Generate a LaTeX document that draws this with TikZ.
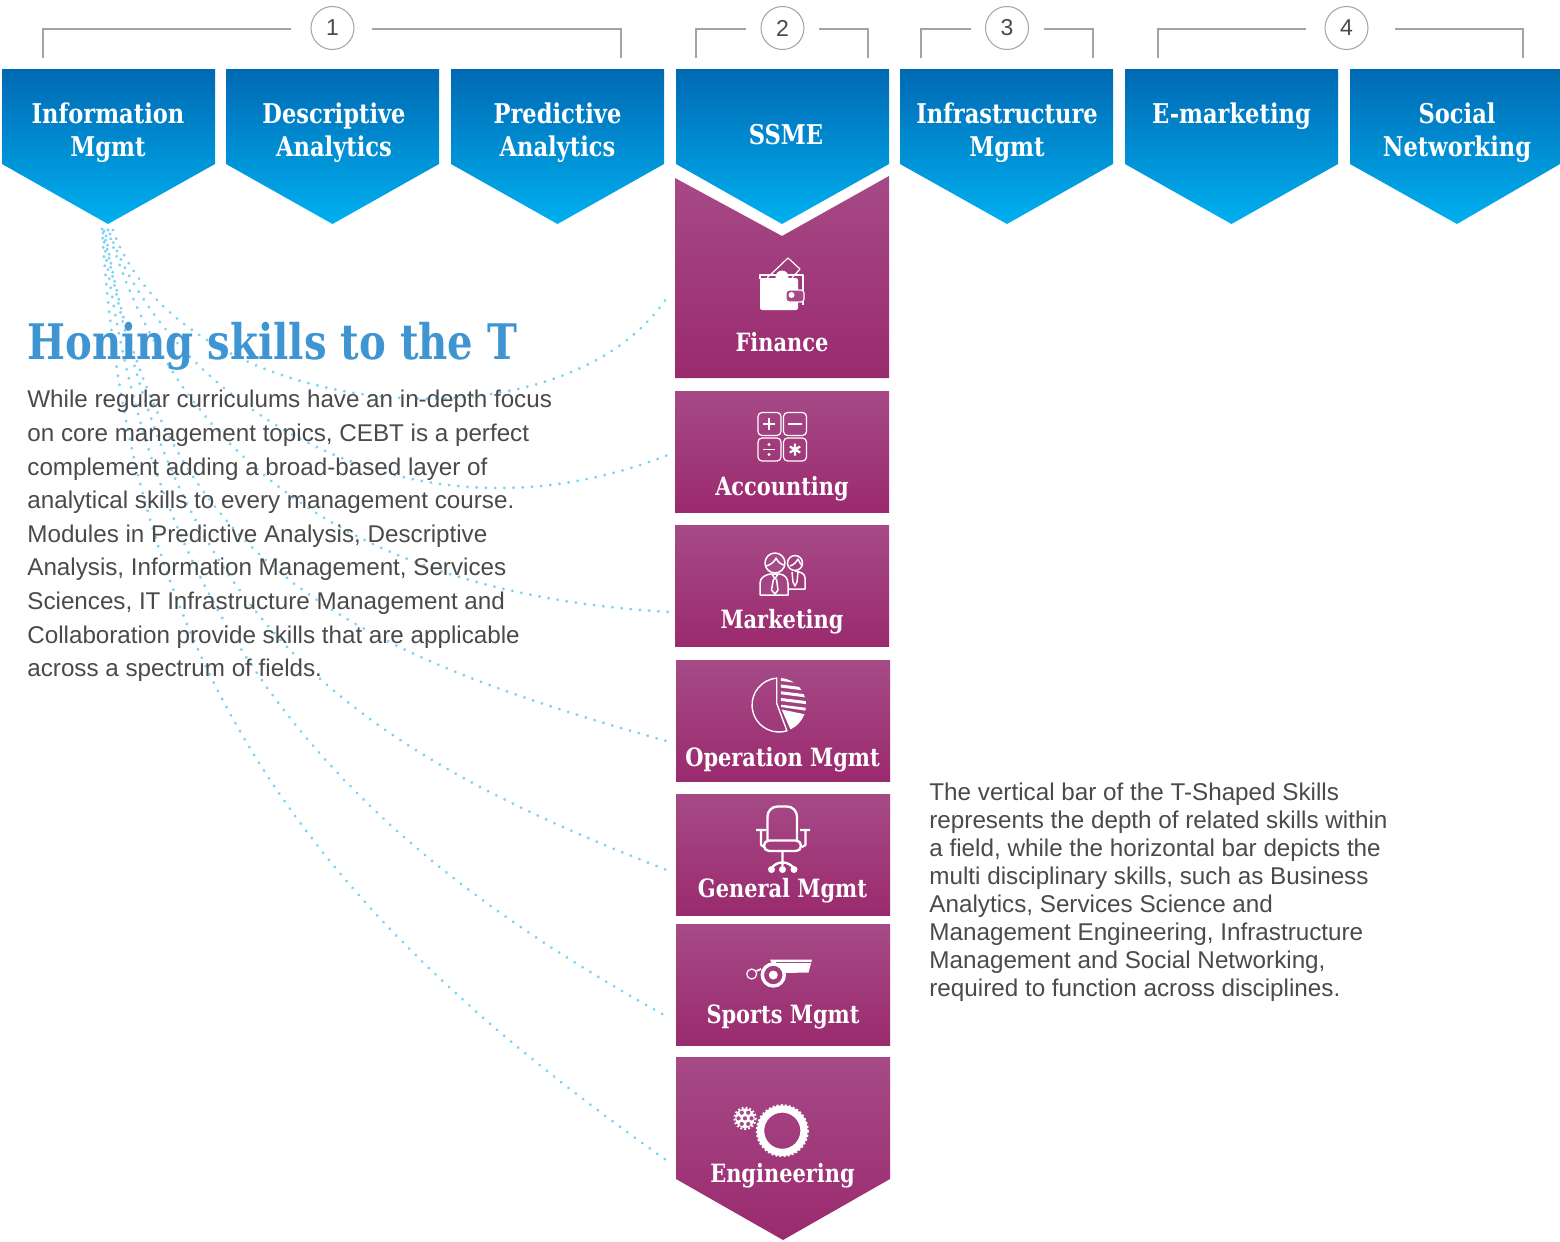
\documentclass[tikz,border=0pt]{standalone}
\usepackage{fontspec}
\setmainfont{Liberation Sans}
\newfontfamily\slab[FakeStretch=0.83]{DejaVu Serif Bold}
\newfontfamily\slabhead[FakeStretch=0.82]{DejaVu Serif Bold}
\usetikzlibrary{calc,decorations.markings}
\definecolor{blueT}{HTML}{0069B3}
\definecolor{blueB}{HTML}{00B0F0}
\definecolor{purpT}{HTML}{A64A87}
\definecolor{purpB}{HTML}{9A2A6E}
\definecolor{brk}{HTML}{A3A3A3}
\definecolor{dotc}{HTML}{7AD2F8}
\definecolor{bodyc}{HTML}{4A4A4A}
\definecolor{headc}{HTML}{3F94D2}
\tikzset{
  bluefill/.style={top color=blueT,bottom color=blueB,draw=none},
  purpfill/.style={top color=purpT,bottom color=purpB,draw=none},
  bluelabel/.style={text=white,font=\slab\fontsize{13.6}{16.6}\selectfont,align=center,inner sep=0pt},
  purplabel/.style={text=white,font=\slab\fontsize{12.6}{15}\selectfont,anchor=base,inner sep=0pt},
  bracket/.style={draw=brk,line width=0.55pt},
  numcircle/.style={circle,draw=brk,line width=0.5pt,minimum size=21.5pt,inner sep=0pt,text=bodyc,font=\fontsize{11.5}{12}\selectfont},
  dotline/.style={decoration={markings,mark=between positions 0 and 1 step 4.6pt with {\fill[dotc] (0,0) circle[radius=0.8pt];}},decorate},
  iconline/.style={draw=white,line width=0.6pt,line join=round},
  iconfill/.style={fill=white,draw=none},
  para/.style={anchor=north west,align=left,inner sep=0pt,text=bodyc}
}
\newcommand{\bluechev}[3]{\path[bluefill] (#1,69) -- (#2,69) -- (#2,164) -- (#3,224) -- (#1,164) -- cycle;}
\begin{document}
\begin{tikzpicture}[x=0.5pt,y=-0.5pt]
\path[fill=white] (0,0) rectangle (1560,1242);
\useasboundingbox (0,0) rectangle (1560,1242);

% connector ends
\coordinate (tipA) at (102,229);
\coordinate (tipB) at (103,233);
\coordinate (tipC) at (104,231);
\coordinate (tipD) at (106,236);
\coordinate (tipE) at (108,230);
\coordinate (tipF) at (110,234);
\coordinate (tipG) at (113,230);
\coordinate (endFin) at (668,296);
\coordinate (endAcc) at (668,455);
\coordinate (endMkt) at (670,612);
\coordinate (endOps) at (670,742);
\coordinate (endGen) at (672,872);
\coordinate (endSpo) at (666,1016);
\coordinate (endEng) at (666,1160);

% dotted connectors
\path[dotline] (tipG) .. controls (180,420) and (560,460) .. (endFin);
\path[dotline] (tipF) .. controls (170,395) and (400,560) .. (endAcc);
\path[dotline] (tipE) .. controls (180,470) and (370,595) .. (endMkt);
\path[dotline] (tipD) .. controls (160,560) and (340,650) .. (endOps);
\path[dotline] (tipC) .. controls (170,610) and (330,740) .. (endGen);
\path[dotline] (tipB) .. controls (150,620) and (330,830) .. (endSpo);
\path[dotline] (tipA) .. controls (130,680) and (320,915) .. (endEng);

% brackets and numbers
\node[numcircle] (n1) at (332.5,28) {1};
\node[numcircle] (n2) at (782.5,28) {2};
\node[numcircle] (n3) at (1007,28) {3};
\node[numcircle] (n4) at (1346.5,28) {4};
\draw[bracket] (43,58) |- (291,29);
\draw[bracket] (372,29) -| (621,58);
\draw[bracket] (696,58) |- (746,29);
\draw[bracket] (819,29) -| (868,58);
\draw[bracket] (921,58) |- (971,29);
\draw[bracket] (1044,29) -| (1093,58);
\draw[bracket] (1158,58) |- (1306,29);
\draw[bracket] (1395,29) -| (1523,58);

% top chevrons
\bluechev{2}{215}{108}
\bluechev{226}{439}{332.5}
\bluechev{451}{664}{557.5}
\bluechev{676}{889}{782}
\bluechev{900}{1113}{1007}
\bluechev{1125}{1338}{1231.5}
\bluechev{1350}{1560}{1457}
\node[bluelabel] (info) at (108,133) {Information\\Mgmt};
\node[bluelabel] (desc) at (334,133) {Descriptive\\Analytics};
\node[bluelabel] (pred) at (557.5,133) {Predictive\\Analytics};
\node[bluelabel] (ssme) at (786,134.5) {SSME};
\node[bluelabel] (infra) at (1007,133) {Infrastructure\\Mgmt};
\node[bluelabel] (emkt) at (1231.5,116.5) {E-marketing};
\node[bluelabel] (soc) at (1457,133) {Social\\Networking};

% purple column
\path[purpfill] (675,178) -- (782,236) -- (889,176) -- (889,378) -- (675,378) -- cycle;
\path[purpfill] (675,391) rectangle (889,512);
\path[purpfill] (675,525) rectangle (889,646);
\path[purpfill] (676,660) rectangle (890,781);
\path[purpfill] (676,794) rectangle (890,915);
\path[purpfill] (676,924) rectangle (890,1045);
\path[purpfill] (676,1057) -- (890,1057) -- (890,1179) -- (783,1240) -- (676,1179) -- cycle;
\node[purplabel] (fin) at (782,351.5) {Finance};
\node[purplabel] (acc) at (782,495.5) {Accounting};
\node[purplabel] (mkt) at (782,628.5) {Marketing};
\node[purplabel] (ops) at (782.5,766.5) {Operation Mgmt};
\node[purplabel] (gen) at (782.5,897.5) {General Mgmt};
\node[purplabel] (spo) at (783,1023.5) {Sports Mgmt};
\node[purplabel] (eng) at (782.5,1182.5) {Engineering};

% wallet
\draw[iconline] (760,279) -- (760,275) -- (803,275) -- (803,305);
\draw[iconline] (767,278) -- (788,258) -- (800,269) -- (792,278);
\path[iconfill] (782,277) circle (6.5);
\path[iconfill,rounded corners=1pt] (760,278) rectangle (798,310);
\draw[iconline,fill=purpT,rounded corners=1.5pt] (786,290) rectangle (804,302);
\path[iconfill] (791.5,295) circle (3);

% calculator
\foreach \xx/\yy in {758/412.5,783.5/412.5,758/438,783.5/438}
  \draw[iconline,rounded corners=2pt] (\xx,\yy) rectangle ++(23,23);
\draw[white,line width=1.1pt] (762.5,424) -- (775,424) (769,418) -- (769,430);
\draw[white,line width=1.1pt] (788,424) -- (802,424);
\draw[white,line width=0.8pt] (763,449.5) -- (775,449.5);
\path[iconfill] (769,444.5) circle (1.6) (769,454.5) circle (1.6);
\draw[white,line width=1.1pt] (795,443.5) -- (795,455.5) (789.8,446.5) -- (800.2,452.5) (789.8,452.5) -- (800.2,446.5);

% people
\draw[iconline,line width=0.75pt] (795,563) circle (7.5);
\draw[iconline,line width=0.75pt] (788,589) -- (805,589) -- (805,578) .. controls (805,573) and (800,572) .. (795,571) (790,566) .. controls (794,565) and (797,561) .. (798,559) .. controls (799,562) and (801,565) .. (803,565);
\draw[iconline,line width=0.75pt] (792,572) -- (793,582) -- (795,586) -- (797,582) -- (798,572);
\draw[iconline,line width=0.75pt,fill=purpT] (775,563) circle (10);
\draw[iconline,line width=0.75pt] (766,566) .. controls (771,565) and (775,561) .. (776,558) .. controls (778,562) and (781,565) .. (785,565);
\draw[iconline,line width=0.75pt,fill=purpT!85!purpB] (760,595) -- (760,583) .. controls (760,577) and (766,575) .. (770,574) -- (780,574) .. controls (785,575) and (788,578) .. (788,584) -- (788,595) -- cycle;
\draw[iconline,line width=0.75pt] (772,574) -- (775,579) -- (778,574) (773.5,579) -- (771.5,590) -- (775,594) -- (778,590) -- (776.5,579);

% pie
\draw[iconline,line width=0.7pt] (776.7,678.1) arc[start angle=265,end angle=73,radius=27] -- (776.7,703.3) -- cycle;
\path[iconfill] (781.7,709.5) -- (804.4,714.2) arc[start angle=20,end angle=65,radius=27] -- cycle;
\begin{scope}
\clip (781,706) -- ($(779,705)+(-86:27)$) arc[start angle=-86,end angle=12,radius=27] -- (781,707) -- cycle;
\foreach \yy in {679,685.7,692.4,699.1,705.8}
  \draw[white,line width=1.5pt] (778,\yy) -- (810,\yy+4);
\end{scope}

% chair
\draw[iconline,line width=1.2pt,rounded corners=5pt] (767.5,840) -- (767.5,806.5) -- (797,806.5) -- (797,840);
\draw[iconline,line width=1.2pt,rounded corners=2.5pt] (764,840.5) rectangle (801,851);
\draw[iconline,line width=1.1pt] (756,830) -- (766,830) (761,830) -- (761,845) -- (764,847);
\draw[iconline,line width=1.1pt] (800,830) -- (810,830) (805.5,830) -- (805.5,845) -- (802,847);
\draw[iconline,line width=1.2pt] (782.5,851) -- (782.5,866) (771.5,868) .. controls (775,864) and (778,862.5) .. (782.5,862.5) .. controls (787,862.5) and (790,864) .. (794,868);
\path[iconfill] (771.5,869.5) circle (3.5) (782.5,869.5) circle (3.5) (794,869.5) circle (3.5);

% whistle
\draw[iconline,line width=0.6pt] (751.7,974) circle (5);
\draw[iconline,line width=0.9pt] (756.5,971) -- (761,969);
\path[iconfill] (770,959.5) -- (812,959.5) -- (808.5,972.5) -- (784,973) .. controls (786,968) and (782,964) .. (773,966) -- cycle;
\draw[purpT,line width=0.35pt] (776,962.5) -- (810.5,962.5);
\draw[iconline,line width=1.7pt] (773.3,975) circle (11);
\path[iconfill] (773.3,975) circle (4.5);

% gears
\draw[iconline,line width=3.6pt] (782.3,1130.7) circle (21.7);
\draw[white,line width=1.5pt,dash pattern=on 1pt off 1pt] (782.3,1130.7) circle (25);
\path[iconfill] (745,1118.3) circle (9.7);
\draw[white,line width=1pt,dash pattern=on 0.9pt off 1.05pt] (745,1118.3) circle (10.7);
\foreach \aa in {0,60,...,300}
  \path[fill=purpT] ($(745,1118.3)+(\aa:6.5)$) circle (2.1);
\path[fill=purpT] (745,1118.3) circle (2.1);

% texts
\node[anchor=base west,inner sep=0pt,text=headc,font=\slabhead\fontsize{24.5}{28}\selectfont] (head) at (27,359) {Honing skills to the T};
\node[para,font=\fontsize{12.1}{16.8}\selectfont] (left) at (27,390) {While regular curriculums have an in-depth focus\\
on core management topics, CEBT is a perfect\\
complement adding a broad-based layer of\\
analytical skills to every management course.\\
Modules in Predictive Analysis, Descriptive\\
Analysis, Information Management, Services\\
Sciences, IT Infrastructure Management and\\
Collaboration provide skills that are applicable\\
across a spectrum of fields.};
\node[para,font=\fontsize{12.12}{14}\selectfont] (right) at (929,782.5) {The vertical bar of the T-Shaped Skills\\
represents the depth of related skills within\\
a field, while the horizontal bar depicts the\\
multi disciplinary skills, such as Business\\
Analytics, Services Science and\\
Management Engineering, Infrastructure\\
Management and Social Networking,\\
required to function across disciplines.};
\end{tikzpicture}
\end{document}
